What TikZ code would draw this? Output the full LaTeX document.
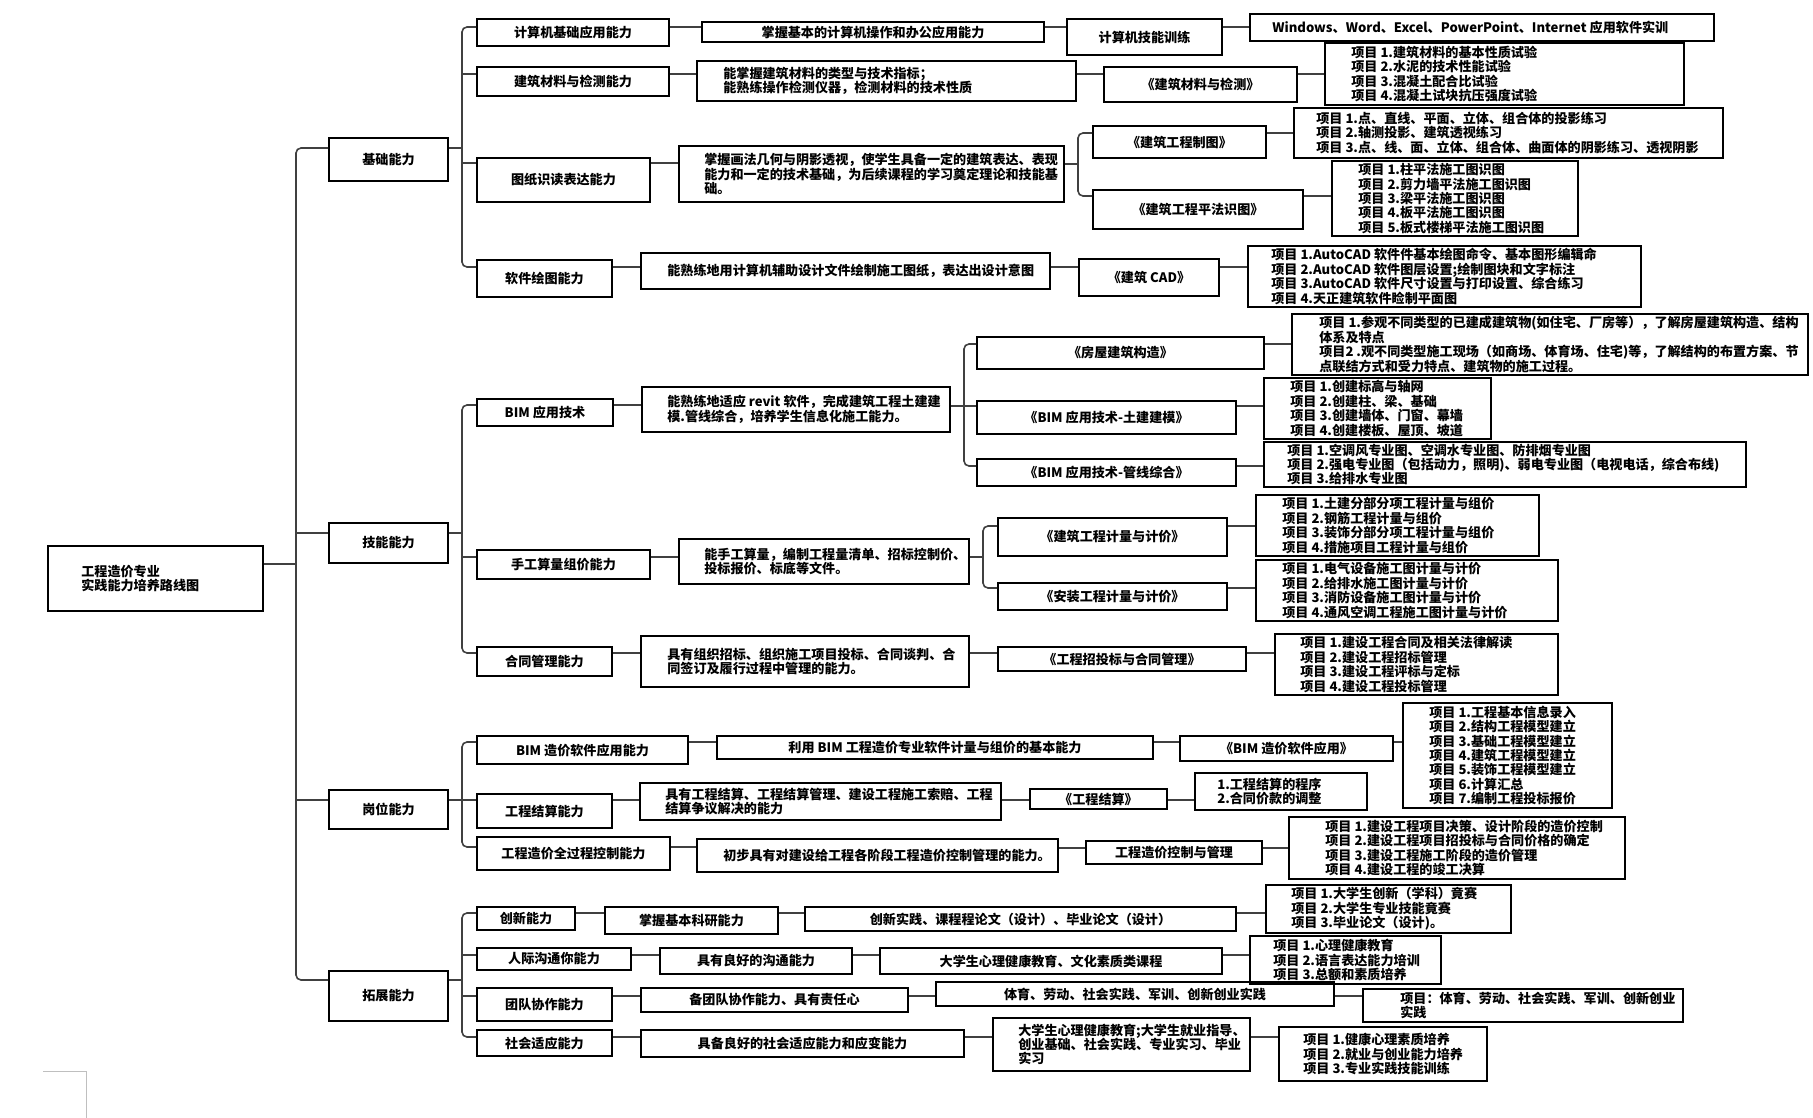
\documentclass[tikz,border=0pt]{standalone}
\usepackage{fontspec}
\setmainfont{Noto Sans CJK SC}
\def\boxfont{\fontsize{13.1}{14.4}\selectfont\bfseries}
% box from corners, centred text
\newcommand\mkbox[6]{\node[box, minimum width={#4-#2}, minimum height={#5-#3}] (#1) at ({(#2+#4)/2},{(#3+#5)/2}) {#6};}
% box from corners, text set from a left margin
\newcommand\mktbox[7]{\mkbox{#1}{#2}{#3}{#4}{#5}{}\node[txt, anchor=west] (#1t) at ([xshift={#6-#2}]#1.west) {#7};}

\begin{document}
\begin{tikzpicture}[x=1pt, y=-1pt, box/.style={draw, line width=1.8pt, inner sep=0pt, font=\boxfont, align=center}, txt/.style={inner sep=0pt, font=\boxfont, align=left}, conn/.style={draw=black!75, line width=1.6pt}]
    \useasboundingbox (0,0) rectangle (1813,1118);

    \mktbox{root}{48}{546}{263}{611}{82}{工程造价专业\\实践能力培养路线图}
    \mkbox{l1}{329}{138}{448}{181}{基础能力}
    \mkbox{l2}{329}{523}{448}{563}{技能能力}
    \mkbox{l3}{329}{790}{448}{829}{岗位能力}
    \mkbox{l4}{329}{971}{448}{1021}{拓展能力}

    % basic
    \mkbox{a1}{477}{19}{669}{46}{计算机基础应用能力}
    \mkbox{b1}{702}{22}{1044}{42}{掌握基本的计算机操作和办公应用能力}
    \mkbox{c1}{1067}{19}{1222}{55}{计算机技能训练}
    \mktbox{d1}{1250}{14}{1714}{41}{1273}{Windows、Word、Excel、PowerPoint、Internet 应用软件实训}
    \mkbox{a2}{477}{67}{669}{96}{建筑材料与检测能力}
    \mktbox{b2}{697}{61}{1076}{101}{724}{能掌握建筑材料的类型与技术指标；\\能熟练操作检测仪器，检测材料的技术性质}
    \mkbox{c2}{1104}{67}{1297}{102}{《建筑材料与检测》}
    \mktbox{d2}{1325}{43}{1684}{105}{1352}{项目 1.建筑材料的基本性质试验\\项目 2.水泥的技术性能试验\\项目 3.混凝土配合比试验\\项目 4.混凝土试块抗压强度试验}
    \mkbox{a3}{477}{158}{650}{202}{图纸识读表达能力}
    \mktbox{b3}{679}{146}{1064}{202}{705}{掌握画法几何与阴影透视，使学生具备一定的建筑表达、表现\\能力和一定的技术基础，为后续课程的学习奠定理论和技能基\\础。}
    \mkbox{c3}{1093}{126}{1266}{158}{《建筑工程制图》}
    \mktbox{d3}{1294}{108}{1723}{158}{1317}{项目 1.点、直线、平面、立体、组合体的投影练习\\项目 2.轴测投影、建筑透视练习\\项目 3.点、线、面、立体、组合体、曲面体的阴影练习、透视阴影}
    \mkbox{c4}{1093}{190}{1303}{229}{《建筑工程平法识图》}
    \mktbox{d4}{1332}{161}{1578}{236}{1359}{项目 1.柱平法施工图识图\\项目 2.剪力墙平法施工图识图\\项目 3.梁平法施工图识图\\项目 4.板平法施工图识图\\项目 5.板式楼梯平法施工图识图}
    \mkbox{a4}{477}{260}{612}{297}{软件绘图能力}
    \mktbox{b4}{641}{253}{1050}{289}{668}{能熟练地用计算机辅助设计文件绘制施工图纸，表达出设计意图}
    \mkbox{c5}{1079}{259}{1219}{296}{《建筑 CAD》}
    \mktbox{d5}{1248}{246}{1641}{307}{1272}{项目 1.AutoCAD 软件件基本绘图命令、基本图形编辑命\\项目 2.AutoCAD 软件图层设置;绘制图块和文字标注\\项目 3.AutoCAD 软件尺寸设置与打印设置、综合练习\\项目 4.天正建筑软件睑制平面图}

    % skills
    \mkbox{a5}{477}{399}{613}{426}{BIM 应用技术}
    \mktbox{b5}{642}{387}{950}{432}{668}{能熟练地适应 revit 软件，完成建筑工程土建建\\模.管线综合，培养学生信息化施工能力。}
    \mkbox{c6}{977}{337}{1264}{369}{《房屋建筑构造》}
    \mktbox{d6}{1292}{314}{1808}{375}{1320}{项目 1.参观不同类型的已建成建筑物(如住宅、厂房等），了解房屋建筑构造、结构\\体系及特点\\项目2 .观不同类型施工现场（如商场、体育场、住宅)等，了解结构的布置方案、节\\点联结方式和受力特点、建筑物的施工过程。}
    \mkbox{c7}{977}{401}{1236}{434}{《BIM 应用技术-土建建模》}
    \mktbox{d7}{1264}{378}{1491}{439}{1291}{项目 1.创建标高与轴网\\项目 2.创建柱、梁、基础\\项目 3.创建墙体、门窗、幕墙\\项目 4.创建楼板、屋顶、坡道}
    \mkbox{c8}{977}{459}{1236}{486}{《BIM 应用技术-管线综合》}
    \mktbox{d8}{1264}{442}{1746}{487}{1288}{项目 1.空调风专业图、空调水专业图、防排烟专业图\\项目 2.强电专业图（包括动力，照明)、弱电专业图（电视电话，综合布线)\\项目 3.给排水专业图}
    \mkbox{a6}{477}{550}{650}{579}{手工算量组价能力}
    \mktbox{b6}{679}{539}{969}{584}{705}{能手工算量，编制工程量清单、招标控制价、\\投标报价、标底等文件。}
    \mkbox{c9}{998}{518}{1227}{556}{《建筑工程计量与计价》}
    \mktbox{d9}{1256}{495}{1539}{556}{1283}{项目 1.土建分部分项工程计量与组价\\项目 2.钢筋工程计量与组价\\项目 3.装饰分部分项工程计量与组价\\项目 4.措施项目工程计量与组价}
    \mkbox{c10}{998}{583}{1227}{610}{《安装工程计量与计价》}
    \mktbox{d10}{1256}{560}{1558}{621}{1283}{项目 1.电气设备施工图计量与计价\\项目 2.给排水施工图计量与计价\\项目 3.消防设备施工图计量与计价\\项目 4.通风空调工程施工图计量与计价}
    \mkbox{a7}{477}{647}{612}{676}{合同管理能力}
    \mktbox{b7}{641}{636}{969}{687}{668}{具有组织招标、组织施工项目投标、合同谈判、合\\同签订及履行过程中管理的能力。}
    \mkbox{c11}{998}{647}{1246}{671}{《工程招投标与合同管理》}
    \mktbox{d11}{1275}{634}{1558}{695}{1301}{项目 1.建设工程合同及相关法律解读\\项目 2.建设工程招标管理\\项目 3.建设工程评标与定标\\项目 4.建设工程投标管理}

    % post
    \mkbox{a8}{477}{736}{688}{764}{BIM 造价软件应用能力}
    \mkbox{b8}{717}{736}{1153}{759}{利用 BIM 工程造价专业软件计量与组价的基本能力}
    \mkbox{c12}{1180}{736}{1393}{761}{《BIM 造价软件应用》}
    \mktbox{d12}{1403}{703}{1612}{808}{1430}{项目 1.工程基本信息录入\\项目 2.结构工程模型建立\\项目 3.基础工程模型建立\\项目 4.建筑工程模型建立\\项目 5.装饰工程模型建立\\项目 6.计算汇总\\项目 7.编制工程投标报价}
    \mkbox{a9}{477}{794}{612}{828}{工程结算能力}
    \mktbox{b9}{640}{783}{1001}{820}{666}{具有工程结算、工程结算管理、建设工程施工索赔、工程\\结算争议解决的能力}
    \mkbox{c13}{1030}{789}{1167}{809}{《工程结算》}
    \mktbox{d13}{1195}{773}{1367}{810}{1218}{1.工程结算的程序\\2.合同价款的调整}
    \mkbox{a10}{477}{837}{670}{870}{工程造价全过程控制能力}
    \mktbox{b10}{697}{839}{1058}{872}{724}{初步具有对建设给工程各阶段工程造价控制管理的能力。}
    \mkbox{c14}{1086}{841}{1262}{864}{工程造价控制与管理}
    \mktbox{d14}{1289}{817}{1625}{879}{1326}{项目 1.建设工程项目决策、设计阶段的造价控制\\项目 2.建设工程项目招投标与合同价格的确定\\项目 3.建设工程施工阶段的造价管理\\项目 4.建设工程的竣工决算}

    % extension
    \mkbox{a11}{477}{907}{575}{930}{创新能力}
    \mkbox{b11}{605}{907}{778}{934}{掌握基本科研能力}
    \mkbox{c15}{805}{907}{1236}{931}{创新实践、课程程论文（设计）、毕业论文（设计）}
    \mktbox{d15}{1266}{885}{1511}{933}{1292}{项目 1.大学生创新（学科）竟赛\\项目 2.大学生专业技能竟赛\\项目 3.毕业论文（设计)。}
    \mkbox{a12}{477}{948}{631}{970}{人际沟通你能力}
    \mkbox{b12}{660}{948}{852}{974}{具有良好的沟通能力}
    \mkbox{c16}{880}{948}{1222}{974}{大学生心理健康教育、文化素质类课程}
    \mktbox{d16}{1250}{936}{1441}{984}{1274}{项目 1.心理健康教育\\项目 2.语言表达能力培训\\项目 3.总额和素质培养}
    \mkbox{a13}{477}{988}{612}{1021}{团队协作能力}
    \mkbox{b13}{641}{988}{908}{1012}{备团队协作能力、具有责任心}
    \mkbox{c17}{936}{982}{1334}{1006}{体育、劳动、社会实践、军训、创新创业实践}
    \mktbox{d17}{1363}{989}{1683}{1022}{1401}{项目：体育、劳动、社会实践、军训、创新创业\\实践}
    \mkbox{a14}{477}{1030}{612}{1056}{社会适应能力}
    \mkbox{b14}{641}{1030}{964}{1057}{具备良好的社会适应能力和应变能力}
    \mktbox{c18}{993}{1018}{1250}{1071}{1019}{大学生心理健康教育;大学生就业指导、\\创业基础、社会实践、专业实习、毕业\\实习}
    \mktbox{d18}{1279}{1027}{1487}{1081}{1304}{项目 1.健康心理素质培养\\项目 2.就业与创业能力培养\\项目 3.专业实践技能训练}

    % buses
    \coordinate (bus0) at (296,564);
    \coordinate (bus1) at (462,148);
    \coordinate (bus2) at (462,533);
    \coordinate (bus3) at (1078,164);
    \coordinate (bus4) at (964,406);
    \coordinate (bus5) at (983,557);
    \coordinate (bus6) at (462,800);
    \coordinate (bus7) at (462,980);

    \draw[conn] (root.east |- bus0) -- (bus0);
    \draw[conn, rounded corners=5pt] (l1.west |- 0,148) -| (bus0) |- (l4.west |- 0,980);
    \draw[conn] (bus0 |- 0,533) -- (l2.west |- 0,533);
    \draw[conn] (bus0 |- 0,800) -- (l3.west |- 0,800);

    \draw[conn] (l1.east |- bus1) -- (bus1);
    \draw[conn, rounded corners=5pt] (a1.west |- 0,27) -| (bus1) |- (a4.west |- 0,267);
    \draw[conn] (bus1 |- 0,74) -- (a2.west |- 0,74);
    \draw[conn] (bus1 |- 0,163) -- (a3.west |- 0,163);

    \draw[conn] (b3.east |- bus3) -- (bus3);
    \draw[conn, rounded corners=5pt] (c3.west |- 0,133) -| (bus3) |- (c4.west |- 0,196);

    \draw[conn] (l2.east |- bus2) -- (bus2);
    \draw[conn, rounded corners=5pt] (a5.west |- 0,405) -| (bus2) |- (a7.west |- 0,653);
    \draw[conn] (bus2 |- 0,557) -- (a6.west |- 0,557);

    \draw[conn] (b5.east |- bus4) -- (bus4);
    \draw[conn, rounded corners=5pt] (c6.west |- 0,344) -| (bus4) |- (c8.west |- 0,466);
    \draw[conn] (bus4) -- (c7.west |- bus4);

    \draw[conn] (b6.east |- bus5) -- (bus5);
    \draw[conn, rounded corners=5pt] (c9.west |- 0,526) -| (bus5) |- (c10.west |- 0,588);

    \draw[conn] (l3.east |- bus6) -- (bus6);
    \draw[conn, rounded corners=5pt] (a8.west |- 0,742) -| (bus6) |- (a10.west |- 0,847);
    \draw[conn] (bus6) -- (a9.west |- bus6);

    \draw[conn] (l4.east |- bus7) -- (bus7);
    \draw[conn, rounded corners=5pt] (a11.west |- 0,913) -| (bus7) |- (a14.west |- 0,1037);
    \draw[conn] (bus7 |- 0,955) -- (a12.west |- 0,955);
    \draw[conn] (bus7 |- 0,996) -- (a13.west |- 0,996);

    % rows
    \foreach \p/\q/\y in {a1/b1/27, b1/c1/27, c1/d1/27, a2/b2/74, b2/c2/74, c2/d2/74, a3/b3/163, c3/d3/133, c4/d4/196, a4/b4/267, b4/c5/267, c5/d5/267,
        a5/b5/405, c6/d6/344, c7/d7/406, c8/d8/466, a6/b6/557, c9/d9/526, c10/d10/588, a7/b7/653, b7/c11/653, c11/d11/653,
        a8/b8/742, b8/c12/742, c12/d12/742, a9/b9/800, b9/c13/800, c13/d13/800, a10/b10/847, b10/c14/848, c14/d14/848,
        a11/b11/913, b11/c15/913, c15/d15/913, a12/b12/955, b12/c16/955, c16/d16/955, a13/b13/996, b13/c17/996, c17/d17/996, a14/b14/1037, b14/c18/1037, c18/d18/1037} {
        \draw[conn] (\p.east |- 0,\y) -- (\q.west |- 0,\y);
    }

    % page corner mark
    \draw[black!25, line width=0.8pt] (43,1071) -- (86,1071) -- (86,1118);
\end{tikzpicture}
\end{document}
